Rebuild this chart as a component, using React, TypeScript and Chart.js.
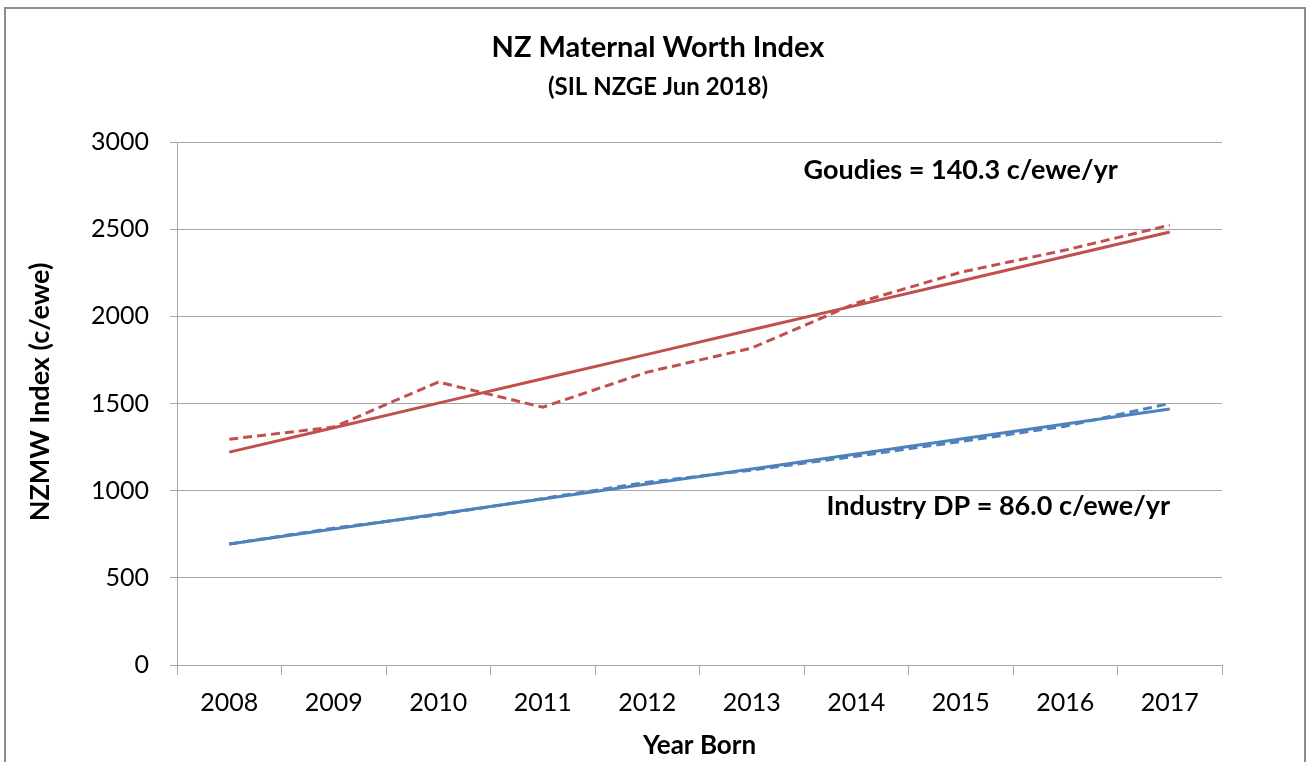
import React, { useEffect, useRef } from "react";
import { Chart, registerables } from "chart.js";

Chart.register(...registerables);

const years = ["2008", "2009", "2010", "2011", "2012", "2013", "2014", "2015", "2016", "2017"];
const goudies = [1295, 1365, 1623, 1479, 1680, 1818, 2076, 2253, 2380, 2523];
const goudiesTrend = [1221, 1361, 1502, 1642, 1782, 1923, 2063, 2203, 2343, 2484];
const industry = [694, 785, 862, 955, 1048, 1118, 1198, 1282, 1370, 1500];
const industryTrend = [694, 780, 866, 952, 1038, 1124, 1210, 1296, 1382, 1468];
const yTicks = [0, 500, 1000, 1500, 2000, 2500, 3000];

const titleText = "NZ Maternal Worth Index";
const subtitleText = "(SIL NZGE Jun 2018)";
const yTitle = "NZMW Index (c/ewe)";
const xTitle = "Year Born";
const goudiesNote = "Goudies = 140.3 c/ewe/yr";
const industryNote = "Industry DP = 86.0 c/ewe/yr";

const RED = "#C0504D";
const BLUE = "#4F81BD";
const FONT = "Lato, 'Open Sans', sans-serif";

const textPlugin = {
  id: "texts",
  afterDraw(chart: any) {
    const ctx = chart.ctx;
    const x = chart.scales.x;
    const y = chart.scales.y;
    const area = chart.chartArea;
    ctx.save();
    ctx.fillStyle = "#000";
    ctx.textAlign = "center";
    ctx.textBaseline = "middle";
    ctx.font = `bold 29px ${FONT}`;
    ctx.fillText(titleText, 658, 48);
    ctx.font = `bold 24px ${FONT}`;
    ctx.fillText(subtitleText, 658, 87);
    ctx.font = `bold 26px ${FONT}`;
    ctx.fillText(xTitle, (area.left + area.right) / 2, 746);
    ctx.save();
    ctx.translate(40, 392);
    ctx.rotate(-Math.PI / 2);
    ctx.font = `bold 27px ${FONT}`;
    ctx.fillText(yTitle, 0, 0);
    ctx.restore();
    ctx.font = `bold 27px ${FONT}`;
    ctx.fillText(goudiesNote, x.getPixelForValue(7), y.getPixelForValue(2838));
    ctx.fillText(industryNote, x.getPixelForValue(7.36), y.getPixelForValue(912));
    ctx.restore();
  },
};

export default function App() {
  const ref = useRef<HTMLCanvasElement>(null);
  useEffect(() => {
    if (!ref.current) return;
    const chart = new Chart(ref.current, {
      type: "line",
      data: {
        labels: years,
        datasets: [
          { label: "Goudies", data: goudies, borderColor: RED, borderWidth: 3, borderDash: [9, 5], pointRadius: 0, tension: 0 },
          { label: "Goudies trend", data: goudiesTrend, borderColor: RED, borderWidth: 3, pointRadius: 0, tension: 0 },
          { label: "Industry DP", data: industry, borderColor: BLUE, borderWidth: 3, borderDash: [9, 5], pointRadius: 0, tension: 0 },
          { label: "Industry trend", data: industryTrend, borderColor: BLUE, borderWidth: 3, pointRadius: 0, tension: 0 },
        ],
      },
      options: {
        responsive: false,
        animation: false,
        layout: { padding: { left: 0, top: 142, right: 89, bottom: 0 } },
        plugins: { legend: { display: false }, tooltip: { enabled: false }, title: { display: false } },
        scales: {
          x: {
            offset: true,
            grid: { offset: true, drawOnChartArea: false, drawTicks: true, tickLength: 10, color: "#A6A6A6" },
            border: { color: "#A6A6A6", width: 1 },
            ticks: { color: "#000", font: { family: FONT, size: 25 }, padding: 13, maxRotation: 0 },
            afterFit: (s: any) => { s.height = 97; },
          },
          y: {
            min: 0,
            max: 3000,
            afterBuildTicks: (s: any) => { s.ticks = yTicks.map((v) => ({ value: v })); },
            grid: { color: "#A6A6A6", tickLength: 7 },
            border: { color: "#A6A6A6", width: 1 },
            ticks: { color: "#000", font: { family: FONT, size: 25 }, padding: 21, callback: (v: any) => String(v) },
            afterFit: (s: any) => { s.width = 177; },
          },
        },
      },
      plugins: [textPlugin],
    });
    return () => chart.destroy();
  }, []);
  return (
    <div style={{ position: "fixed", left: 0, top: 0, width: 1311, height: 762, background: "#fff", overflow: "hidden" }}>
      <div style={{ position: "absolute", left: 4, top: 7, width: 1298, height: 800, border: "2px solid #8C8C8C" }} />
      <canvas ref={ref} width={1311} height={762} style={{ position: "absolute", left: 0, top: 0 }} />
    </div>
  );
}
